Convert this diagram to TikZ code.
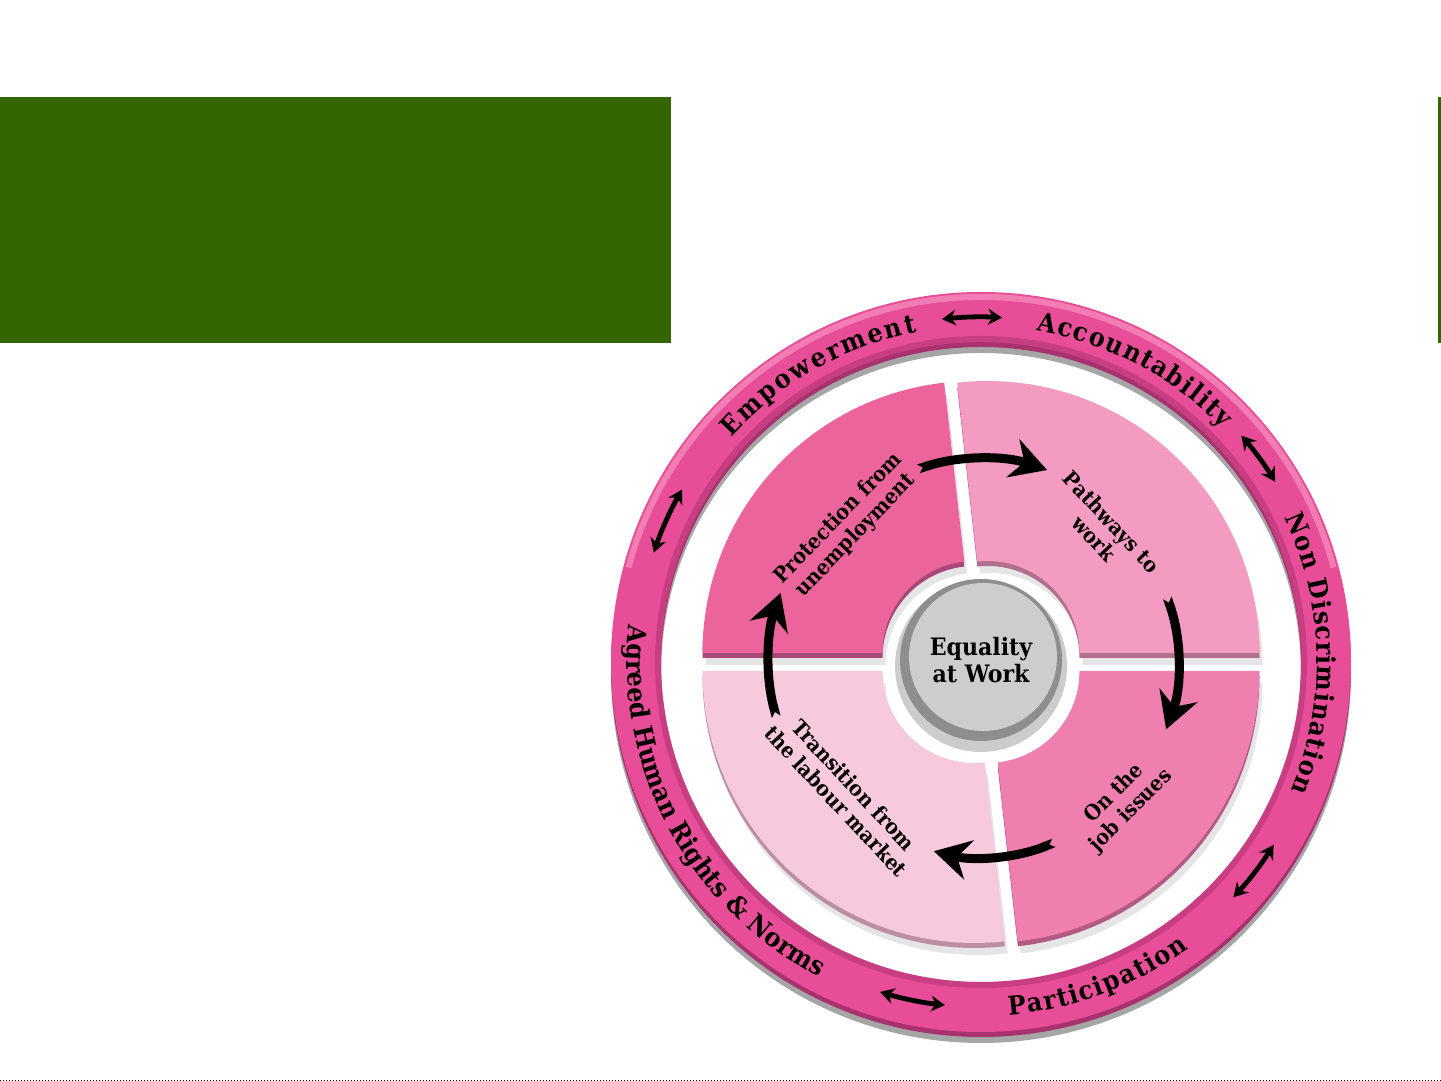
\documentclass[tikz,border=0pt]{standalone}
\usepackage{fontspec}
\setmainfont{DejaVu Serif}
\newfontfamily\diagfont[FakeStretch=0.92]{DejaVu Serif}
\usetikzlibrary{arrows.meta,decorations.text}

\definecolor{slidegreen}{HTML}{336600}
\definecolor{ringpink}{HTML}{E84E97}
\definecolor{ringlight}{HTML}{F27DB5}
\definecolor{ringdark}{HTML}{A8326E}
\definecolor{protectpink}{HTML}{EC649C}
\definecolor{protectdark}{HTML}{A84877}
\definecolor{pathpink}{HTML}{F39BC0}
\definecolor{pathdark}{HTML}{B06F8D}
\definecolor{jobpink}{HTML}{EF7FAE}
\definecolor{jobdark}{HTML}{B35A82}
\definecolor{transpink}{HTML}{F7C9DC}
\definecolor{transdark}{HTML}{BC8EA2}
\definecolor{hubgray}{HTML}{CDCDCD}
\definecolor{hubrim}{HTML}{8E8E8E}

\newcommand{\ringfont}{\diagfont\bfseries\fontsize{13}{15}\selectfont}
\newcommand{\tilepath}[2]{(#1:272) arc[start angle=#1, end angle=#2, radius=272] -- (#2:92) arc[start angle=#2, end angle=#1, radius=92] -- cycle}
% one quarter tile: start angle, end angle, shift, colour, rim colour
\newcommand{\drawtile}[5]{%
  \begin{scope}[shift={#3}]
    \begin{scope}[shift={(3,-12)}]
      \fill[black, opacity=0.10] \tilepath{#1}{#2};
    \end{scope}
    \begin{scope}[shift={(0,-5)}]
      \fill[#5] \tilepath{#1}{#2};
    \end{scope}
    \fill[#4] \tilepath{#1}{#2};
  \end{scope}}

\tikzset{
  tilelabel/.style={align=center, font=\diagfont\bfseries\fontsize{10.5}{12}\selectfont},
  cyclearrow/.style={line width=4.5pt, {Triangle Cap[reversed, length=2.5pt]}-{Stealth[length=18pt, width=20pt, inset=6pt]}},
  ringarrow/.style={line width=2.4pt, {Stealth[length=7pt, width=8pt]}-{Stealth[length=7pt, width=8pt]}},
  ringtext/.style={decorate, decoration={text along path, text align={fit to path}, text={|\ringfont|#1}}}
}

\begin{document}
\begin{tikzpicture}[x=0.5pt, y=0.5pt]
  \useasboundingbox (0,0) rectangle (1441,1081);

  % green title block
  \fill[slidegreen] (0,738) rectangle (671,984);
  \fill[slidegreen] (1438,738) rectangle (1441,984);
  \draw[black, line width=0.5pt, densely dotted] (0,0.5) -- (1441,0.5);

  % outer ring with its shadow
  \begin{scope}[shift={(981,419)}]
    \begin{scope}[shift={(0,-11)}]
      \fill[black, opacity=0.35, even odd rule] (0,0) circle[radius=370] (0,0) circle[radius=320];
    \end{scope}
    \fill[ringdark, even odd rule] (0,-5) circle[radius=370] (0,-5) circle[radius=320];
    \fill[ringpink, even odd rule] (0,0) circle[radius=370] (0,0) circle[radius=320];
    \draw[ringlight, line width=3pt] (15:365) arc[start angle=15, end angle=165, radius=365];
    \draw[ringdark, opacity=0.5, line width=3pt] (0,0) circle[radius=323];

    % texts round the ring
    \path[ringtext=Empowerment] (138:336) arc[start angle=138, end angle=101, radius=336];
    \path[ringtext=Accountability] (80.5:336) arc[start angle=80.5, end angle=44, radius=336];
    \path[ringtext=Non Discrimination] (25.5:336) arc[start angle=25.5, end angle=-22.5, radius=336];
    \path[ringtext=Participation] (-85.5:354) arc[start angle=-85.5, end angle=-54, radius=354];
    \path[ringtext=Agreed Human Rights {\&} Norms] (174:354) arc[start angle=174, end angle=242, radius=354];

    % double arrows on the ring
    \draw[ringarrow] (96.5:345) arc[start angle=96.5, end angle=86.5, radius=345];
    \draw[ringarrow] (41:345) arc[start angle=41, end angle=31.5, radius=345];
    \draw[ringarrow] (-32:345) arc[start angle=-32, end angle=-43, radius=345];
    \draw[ringarrow] (-107:345) arc[start angle=-107, end angle=-96, radius=345];
    \draw[ringarrow] (150:345) arc[start angle=150, end angle=161.5, radius=345];
  \end{scope}

  \begin{scope}[shift={(981,419)}]
    % four tiles
    \drawtile{96.4}{180}{(-6.5,9)}{protectpink}{protectdark}
    \drawtile{0}{96.4}{(6.5,9)}{pathpink}{pathdark}
    \drawtile{276.4}{360}{(6.5,-9)}{jobpink}{jobdark}
    \drawtile{180}{276.4}{(-6.5,-9)}{transpink}{transdark}

    % centre disc
    \fill[black, opacity=0.2] (0,-4) circle[radius=86];
    \fill[hubrim] (0,2) circle[radius=81];
    \fill[hubgray] (2,5) circle[radius=74];
    \node[align=center, font=\diagfont\bfseries\fontsize{12}{13.5}\selectfont] (hub) at (0,2) {Equality\\at Work};

    % tile labels
    \node[tilelabel, rotate=46] (protect) at (-134,135) {Protection from\\unemployment};
    \node[tilelabel, rotate=-47] (pathways) at (122,132) {Pathways to\\work};
    \node[tilelabel, rotate=45] (onjob) at (142,-140) {On the\\job issues};
    \node[tilelabel, rotate=-47] (transition) at (-136,-131) {Transition from\\the labour market};

    % arrows of the cycle
    \draw[cyclearrow] (108:203) arc[start angle=108, end angle=71, radius=203];
    \draw[cyclearrow] (19:197) arc[start angle=19, end angle=-20, radius=197];
    \draw[cyclearrow] (-68:195) arc[start angle=-68, end angle=-104, radius=195];
    \draw[cyclearrow] (195:212) arc[start angle=195, end angle=161, radius=212];
  \end{scope}
\end{tikzpicture}
\end{document}
